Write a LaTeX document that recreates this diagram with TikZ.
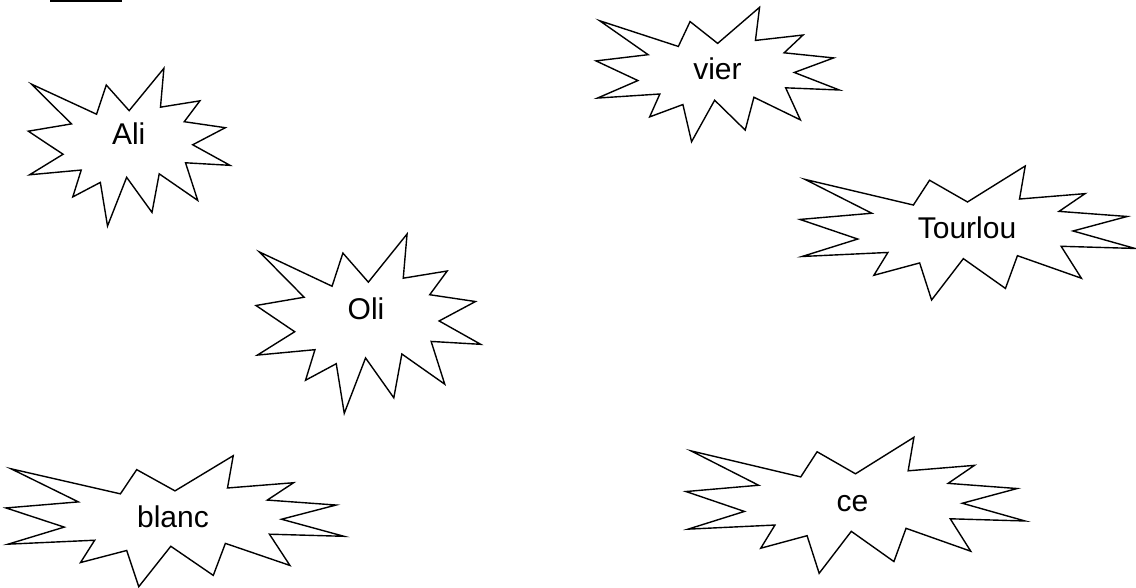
\documentclass[tikz,border=0pt]{standalone}
\usepackage{fontspec}
\setmainfont{Liberation Sans}
\usepackage{tikz}
\tikzstyle{burst} = [draw=black, line width=0.7pt, line join=miter]
\tikzstyle{word} = [anchor=base, inner sep=0pt, font=\fontsize{15}{18}\selectfont]
% explosion outline: left, top, width, height (in px)
\newcommand{\drawBurst}[4]{%
\begin{scope}[shift={(#1,#2)}, xscale=#3, yscale=#4]
\draw[burst] (0.5,0.2685) -- (0.6723,0) -- (0.6553,0.2465) -- (0.8509,0.2063)
  -- (0.7732,0.3387) -- (0.9767,0.3767) -- (0.8151,0.4850) -- (1,0.6153)
  -- (0.7795,0.5992) -- (0.8400,0.8377) -- (0.6491,0.6693) -- (0.6133,0.9137)
  -- (0.4876,0.6914) -- (0.3928,1) -- (0.3572,0.7235) -- (0.2205,0.8156)
  -- (0.2624,0.6452) -- (0.0063,0.6753) -- (0.1723,0.5451) -- (0,0.3988)
  -- (0.2142,0.3526) -- (0.015,0.10) -- (0.3385,0.2913) -- (0.3867,0.1063)
  -- cycle;
\end{scope}}

\begin{document}
\begin{tikzpicture}[x=0.5pt, y=-0.5pt]
\useasboundingbox (0,0) rectangle (1136,588);
% cut-off heading underline
\coordinate (ulA) at (50,1);
\coordinate (ulB) at (122,1);
\draw[line width=1pt] (ulA) -- (ulB);

\drawBurst{28.3}{68.3}{201.7}{157.7}
\node[word] (ali) at (128.7,145) {Ali};

\drawBurst{256}{234}{224.7}{179.3}
\node[word] (oli) at (366,320) {Oli};

\drawBurst{6}{455.7}{338}{131}
\node[word] (blanc) at (173,527.3) {blanc};

\drawBurst{596}{7.3}{243.3}{134.4}
\node[word] (vier) at (717.5,79.3) {vier};

\drawBurst{800}{166}{335}{134}
\node[word] (tourlou) at (967,238.3) {Tourlou};

\drawBurst{686}{437.3}{339}{136}
\node[word] (ce) at (852.5,511.7) {ce};
\end{tikzpicture}
\end{document}
